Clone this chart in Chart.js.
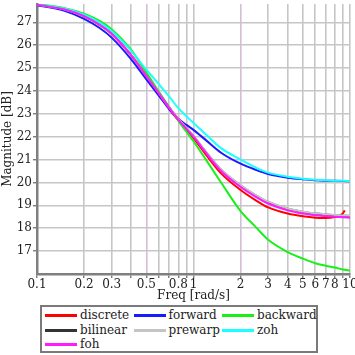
<!DOCTYPE html>
<html>
<head>
<meta charset="utf-8">
<script src="https://cdn.jsdelivr.net/npm/chart.js@4.4.1/dist/chart.umd.min.js"></script>
<style>
  html, body { margin:0; padding:0; background:#fff; }
  #wrap { position:relative; width:355px; height:355px; overflow:hidden; }
  canvas { position:absolute; left:0; top:0; }
  #legend { position:absolute; left:40px; top:305px; width:278px; height:48px; box-sizing:border-box;
            border:2px solid #7a7a7a; background:#fff; }
  .item { position:absolute; height:14px; font-family:"DejaVu Serif", serif; font-size:12px; color:#222; line-height:14px; white-space:nowrap; }
  .sw { position:absolute; left:0; top:6px; width:32px; height:3px; }
  .lab { position:absolute; left:35px; top:0; }
</style>
</head>
<body>
<div id="wrap">
  <canvas id="c" width="355" height="355"></canvas>
  <div id="legend"></div>
</div>
<script>
// ---- data ----
const freq = [0.1, 0.15, 0.2, 0.25, 0.3, 0.4, 0.5, 0.6, 0.7, 0.8, 0.9, 1, 1.2, 1.5, 2, 2.5, 3, 4, 5, 6, 7, 8, 9, 10];
const discreteFreq = [0.1, 0.15, 0.2, 0.25, 0.3, 0.4, 0.5, 0.6, 0.7, 0.8, 0.9, 1, 1.2, 1.5, 2, 2.5, 3, 4, 5, 6, 7, 8, 8.5, 9, 9.25];
const discreteMag = [27.77,27.56,27.27,26.90,26.50,25.55,24.64,23.88,23.22,22.71,22.30,21.94,21.22,20.40,19.67,19.22,18.91,18.64,18.52,18.46,18.45,18.49,18.54,18.65,18.78];
const forwardMag  = [27.75,27.50,27.15,26.76,26.33,25.38,24.50,23.80,23.20,22.78,22.52,22.30,21.85,21.30,20.82,20.55,20.37,20.21,20.14,20.10,20.08,20.07,20.06,20.05];
const backwardMag = [27.80,27.62,27.38,27.07,26.70,25.80,24.80,23.97,23.30,22.70,22.22,21.80,21.00,20.00,18.75,18.05,17.50,16.96,16.67,16.47,16.36,16.28,16.20,16.15];
const bilinearMag = [27.77,27.56,27.27,26.90,26.50,25.56,24.66,23.91,23.27,22.77,22.38,22.03,21.34,20.56,19.87,19.44,19.15,18.85,18.71,18.64,18.60,18.57,18.55,18.54];
const prewarpMag  = [27.77,27.56,27.27,26.90,26.50,25.56,24.66,23.91,23.27,22.78,22.39,22.04,21.35,20.57,19.88,19.45,19.16,18.86,18.72,18.65,18.61,18.58,18.56,18.55];
const zohMag      = [27.78,27.60,27.33,27.00,26.62,25.75,24.93,24.30,23.75,23.25,22.90,22.60,22.10,21.50,21.00,20.65,20.43,20.25,20.16,20.12,20.10,20.08,20.07,20.06];
const fohMag      = [27.77,27.56,27.27,26.90,26.50,25.55,24.65,23.90,23.25,22.75,22.35,22.00,21.30,20.50,19.80,19.37,19.08,18.78,18.64,18.57,18.53,18.50,18.48,18.46];

const seriesNames = ['discrete', 'forward', 'backward', 'bilinear', 'prewarp', 'zoh', 'foh'];
const xTickValues = [0.1,0.2,0.3,0.4,0.5,0.6,0.7,0.8,0.9,1,2,3,4,5,6,7,8,9,10];
const xTickLabels = ['0.1','0.2','0.3','','0.5','','','0.8','','1','2','3','4','5','6','7','8','','10'];
const yTickValues = [17,18,19,20,21,22,23,24,25,26,27];
const xTitle = 'Freq [rad/s]';
const yTitle = 'Magnitude [dB]';

// ---- styling ----
const colors = ['#ff0000', '#1a1aff', '#1aef1a', '#333333', '#c4c4c4', '#1affff', '#ff1aff'];
const seriesX = [discreteFreq, freq, freq, freq, freq, freq, freq];
const seriesY = [discreteMag, forwardMag, backwardMag, bilinearMag, prewarpMag, zohMag, fohMag];

const FONT = { family: "'DejaVu Serif', serif", size: 12 };

const datasets = seriesNames.map((name, i) => ({
  label: name,
  data: seriesX[i].map((x, k) => ({ x: x, y: seriesY[i][k] })),
  borderColor: colors[i],
  backgroundColor: colors[i],
  borderWidth: 2,
  pointRadius: 0,
  fill: false,
  cubicInterpolationMode: 'monotone',
  order: seriesNames.length - i
}));

const bgPlugin = {
  id: 'bg',
  beforeDraw(chart) {
    const c = chart.ctx; c.save(); c.fillStyle = '#fff';
    c.fillRect(0, 0, chart.width, chart.height); c.restore();
  }
};

new Chart(document.getElementById('c'), {
  type: 'line',
  data: { datasets },
  plugins: [bgPlugin],
  options: {
    responsive: false,
    devicePixelRatio: 1,
    animation: false,
    layout: { padding: { left: 0, right: 5, top: 4, bottom: 52 } },
    plugins: { legend: { display: false }, tooltip: { enabled: false } },
    scales: {
      x: {
        type: 'logarithmic',
        min: 0.1, max: 10,
        afterBuildTicks: s => { s.ticks = xTickValues.map(v => ({ value: v })); },
        afterFit: s => { s.height = 29; s.paddingLeft = 0; s.paddingRight = 0; },
        ticks: {
          autoSkip: false, maxRotation: 0, minRotation: 0, padding: 0,
          font: FONT, color: '#222',
          callback: (v) => { const i = xTickValues.indexOf(v); return i >= 0 ? xTickLabels[i] : ''; }
        },
        grid: {
          color: ctx => (ctx.tick && (ctx.tick.value === 0.5 || ctx.tick.value === 2)) ? '#d6bcd6' : '#c6c6c6',
          lineWidth: 1.6, drawTicks: true, tickLength: 4, tickColor: '#444', tickWidth: 1
        },
        border: { display: true, color: '#7f7f7f', width: 2.5 },
        title: { display: true, text: xTitle, font: FONT, color: '#222', padding: { top: 0, bottom: 0 } }
      },
      y: {
        type: 'linear',
        min: 16, max: 27.8,
        afterBuildTicks: s => { s.ticks = yTickValues.map(v => ({ value: v })); },
        afterFit: s => { s.width = 37; s.paddingTop = 0; s.paddingBottom = 0; },
        ticks: { padding: 1, font: FONT, color: '#222', callback: v => String(v) },
        grid: { color: '#c6c6c6', lineWidth: 1.6, drawTicks: true, tickLength: 4, tickColor: '#444', tickWidth: 1 },
        border: { display: true, color: '#7f7f7f', width: 2.5 },
        title: { display: true, text: yTitle, font: FONT, color: '#222', padding: { top: 1, bottom: 0 } }
      }
    }
  }
});

// ---- legend (HTML, real text) ----
const leg = document.getElementById('legend');
seriesNames.forEach((name, i) => {
  const col = i % 3, row = Math.floor(i / 3);
  const it = document.createElement('div');
  it.className = 'item';
  it.style.left = (45 - 42 + col * 88.5) + 'px';
  it.style.top = (315 - 307 - 7 + row * 14.7) + 'px';
  const sw = document.createElement('div');
  sw.className = 'sw'; sw.style.background = colors[i];
  const lab = document.createElement('span');
  lab.className = 'lab'; lab.textContent = name;
  it.appendChild(sw); it.appendChild(lab);
  leg.appendChild(it);
});
</script>
</body>
</html>
